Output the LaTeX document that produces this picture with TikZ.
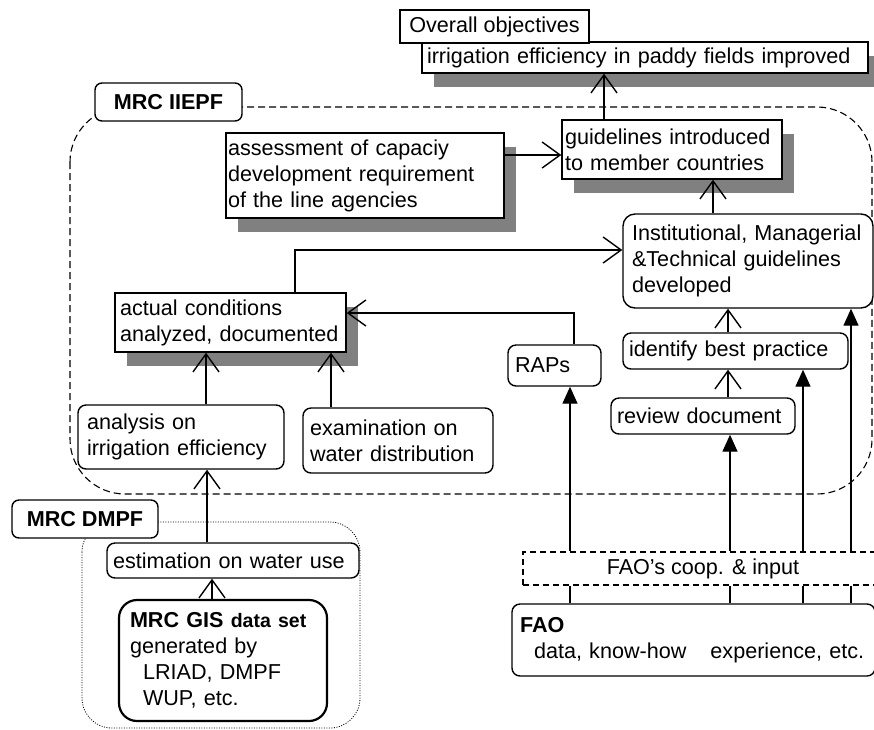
\documentclass[tikz,border=0pt]{standalone}
\usepackage{fontspec}
\setmainfont{Liberation Sans}
\usetikzlibrary{arrows.meta,shadows,calc}
\definecolor{shadowgray}{RGB}{128,128,128}
\begin{document}
\begin{tikzpicture}[x=1pt,y=-1pt,
  every node/.style={font=\fontsize{21.6}{26}\selectfont, inner sep=0pt},
  box/.style={draw, line width=1.4pt, fill=white, align=left, inner ysep=2pt},
  rbox/.style={box, rounded corners=8pt},
  shad/.style={drop shadow={shadow xshift=12pt, shadow yshift=-14pt, fill=shadowgray, opacity=1}},
  lab/.style={draw, line width=1.4pt, fill=white, rounded corners=7pt, font=\fontsize{21.6}{26}\selectfont\bfseries, align=center},
  oarr/.style={line width=1.4pt, -{Straight Barb[length=18pt,width=26pt,line width=1.4pt]}},
  farr/.style={line width=1.4pt, -{Triangle[length=17pt,width=15pt]}},
  plain/.style={line width=1.4pt},
  region/.style={line width=1.1pt, dash pattern=on 7pt off 4pt},
  dotregion/.style={line width=0.8pt, dash pattern=on 1pt off 1.5pt},
]
\useasboundingbox (0,0) rectangle (874,729);
\clip (0,0) rectangle (874,729);

% regions
\draw[region, rounded corners=55pt] (70,107) rectangle (872,494);
\draw[dotregion, rounded corners=30pt] (82,522) rectangle (360,728);

% top
\node[box, shad, minimum width=446pt, minimum height=31pt, inner xsep=5pt, text width=436pt] (goal) at (645,57.5) {irrigation efficiency in paddy fields improved};
\node[box, minimum width=189pt, minimum height=33pt, inner xsep=6pt, align=center] (obj) at (494.5,26.5) {Overall objectives};

\node[box, shad, minimum width=220pt, minimum height=59pt, inner xsep=3pt, text width=214pt] (guide) at (672,149.5) {guidelines introduced\\to member countries};
\node[box, shad, minimum width=278pt, minimum height=85pt, inner xsep=2pt, text width=274pt] (assess) at (365,175.5) {assessment of capaciy\\development requirement\\of the line agencies};
\node[rbox, rounded corners=12pt, minimum width=250pt, minimum height=94pt, inner xsep=9pt, text width=232pt] (inst) at (748,261) {Institutional, Managerial\\\&Technical guidelines\\developed};
\node[box, shad, minimum width=231pt, minimum height=59pt, inner xsep=5pt, text width=221pt] (actual) at (230.5,322.5) {actual conditions\\analyzed, documented};
\node[rbox, minimum width=93pt, minimum height=41pt, inner xsep=7pt, text width=79pt] (raps) at (554.5,365.5) {RAPs};
\node[rbox, minimum width=225pt, minimum height=36pt, inner xsep=6pt, text width=213pt] (best) at (735.5,351) {identify best practice};
\node[rbox, minimum width=184pt, minimum height=36pt, inner xsep=6pt, text width=172pt] (review) at (703,416) {review document};
\node[rbox, minimum width=206pt, minimum height=64pt, inner xsep=9pt, text width=188pt] (anal) at (181,437) {analysis on\\irrigation efficiency};
\node[rbox, minimum width=190pt, minimum height=65pt, inner xsep=7pt, text width=176pt] (exam) at (398,440.5) {examination on\\water distribution};

% lower left
\node[rbox, minimum width=252pt, minimum height=35pt, inner xsep=6pt, text width=240pt] (est) at (233,560.5) {estimation on water use};
\node[box, line width=2.2pt, rounded corners=18pt, minimum width=208pt, minimum height=121pt, inner xsep=11pt, text width=186pt] (gis) at (223,660.5) {{\bfseries MRC GIS \fontsize{19.5}{26}\selectfont data set}\\generated by\\\hspace*{13pt}LRIAD, DMPF\\\hspace*{13pt}WUP, etc.};

% lower right
\node[box, line width=1.6pt, dash pattern=on 6pt off 4pt, minimum width=360pt, minimum height=33pt, align=center] (coop) at (703,568.5) {FAO’s coop. \& input};
\node[rbox, minimum width=363pt, minimum height=72pt, inner xsep=8pt, text width=347pt] (fao) at (693.5,640) {{\bfseries FAO}\\\mbox{\hspace*{14pt}data, know-how\hspace{24pt}experience, etc.}};

% labels
\node[lab, minimum width=147pt, minimum height=38pt] (iiepf) at (168.5,102) {MRC IIEPF};
\node[lab, minimum width=146pt, minimum height=38pt] (dmpf) at (85,519) {MRC DMPF};

% helper coordinates
\coordinate (xg) at (604,0);
\coordinate (xi) at (713,0);
\coordinate (xb) at (728,0);
\coordinate (xa1) at (206,0);
\coordinate (xa2) at (331,0);
\coordinate (xe) at (207,0);
\coordinate (xgis) at (212,0);
\coordinate (f1) at (570,0);
\coordinate (f2) at (730,0);
\coordinate (f3) at (803,0);
\coordinate (f4) at (851,0);
\coordinate (ya) at (0,155);
\coordinate (k1) at (295,250);
\coordinate (k2) at (574,313);

% connectors
\draw[oarr] (guide.north -| xg) -- (goal.south -| xg);
\draw[oarr] (assess.east |- ya) -- (guide.west |- ya);
\draw[oarr] (inst.north -| xi) -- (guide.south -| xi);
\draw[oarr] (actual.north -| k1) -- (k1) -- (inst.west |- k1);
\draw[oarr] (raps.north -| k2) -- (k2) -- (actual.east |- k2);
\draw[oarr] (best.north -| xb) -- (inst.south -| xb);
\draw[oarr] (review.north -| xb) -- (best.south -| xb);
\draw[oarr] (anal.north -| xa1) -- (actual.south -| xa1);
\draw[oarr] (exam.north -| xa2) -- (actual.south -| xa2);
\draw[oarr] (est.north -| xe) -- (anal.south -| xe);
\draw[oarr] (gis.north -| xgis) -- (est.south -| xgis);

\draw[farr] (coop.north -| f1) -- (raps.south -| f1);
\draw[farr] (coop.north -| f2) -- (review.south -| f2);
\draw[farr] (coop.north -| f3) -- (best.south -| f3);
\draw[farr] (coop.north -| f4) -- (inst.south -| f4);

\draw[plain] (fao.north -| f1) -- (coop.south -| f1);
\draw[plain] (fao.north -| f2) -- (coop.south -| f2);
\draw[plain] (fao.north -| f3) -- (coop.south -| f3);
\draw[plain] (fao.north -| f4) -- (coop.south -| f4);
\end{tikzpicture}
\end{document}
